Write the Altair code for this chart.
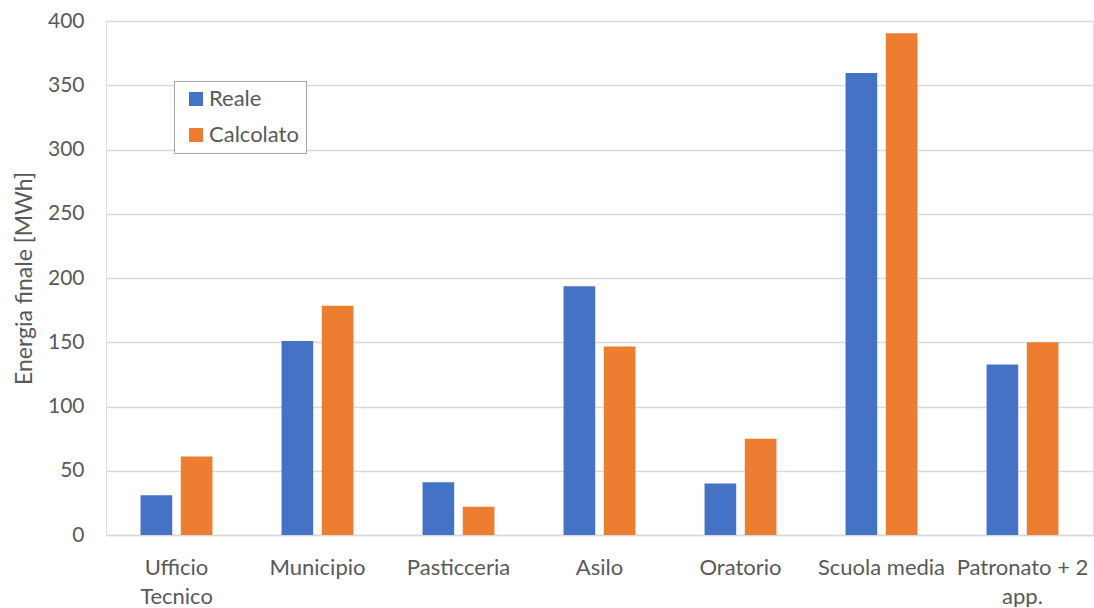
import altair as alt
import pandas as pd

categories = ["Ufficio|Tecnico", "Municipio", "Pasticceria", "Asilo",
              "Oratorio", "Scuola media", "Patronato + 2|app."]
series = ["Reale", "Calcolato"]
reale = [31, 151, 41, 193.5, 40, 359.5, 132.6]
calcolato = [61, 178.5, 22, 146.6, 75, 390.5, 150]
colors = ["#4472C4", "#ED7D31"]

rows = []
for i, c in enumerate(categories):
    rows.append({"cat": c, "serie": "Reale", "val": reale[i]})
    rows.append({"cat": c, "serie": "Calcolato", "val": calcolato[i]})
df = pd.DataFrame(rows)

FONT = "Lato"
TXT = "#595959"

chart = alt.Chart(df).mark_bar().encode(
    x=alt.X("cat:N", sort=categories, title=None,
            scale=alt.Scale(paddingInner=0.49, paddingOuter=0.245),
            axis=alt.Axis(labelAngle=0, labelFontSize=22, labelColor=TXT,
                          labelFont=FONT, labelPadding=22, ticks=False,
                          domainColor="#d9d9d9", domainWidth=1.5,
                          labelLineHeight=29, labelBaseline="top",
                          labelExpr="split(datum.label, '|')")),
    xOffset=alt.XOffset("serie:N", sort=series,
                        scale=alt.Scale(paddingInner=0.213, paddingOuter=0)),
    y=alt.Y("val:Q", title="Energia finale [MWh]",
            scale=alt.Scale(domain=[0, 400], nice=False),
            axis=alt.Axis(values=list(range(0, 401, 50)), labelFontSize=21,
                          labelColor=TXT, labelFont=FONT, ticks=False,
                          domain=False, labelPadding=22,
                          gridColor="#d9d9d9", gridWidth=1.3,
                          titleFont=FONT, titleFontSize=23,
                          titleColor=TXT, titleFontWeight="normal",
                          titlePadding=11)),
    color=alt.Color("serie:N", sort=series,
                    scale=alt.Scale(domain=series, range=colors),
                    legend=alt.Legend(title=None, orient="none",
                                      legendX=68, legendY=60,
                                      symbolType="square", symbolSize=196,
                                      symbolStrokeWidth=0, symbolOffset=4,
                                      labelFont=FONT, labelFontSize=22,
                                      labelColor=TXT, labelOffset=2,
                                      rowPadding=14, padding=7,
                                      strokeColor="#a6a6a6",
                                      fillColor="white")),
).properties(
    width=987, height=514,
    padding={"left": 106, "top": 21, "right": 1, "bottom": 72},
    autosize=alt.AutoSizeParams(type="none"),
).configure_view(
    stroke="#d9d9d9", strokeWidth=1.3
).configure(background="white")

chart.save("out.html", embed_options={"renderer": "svg", "actions": False})
